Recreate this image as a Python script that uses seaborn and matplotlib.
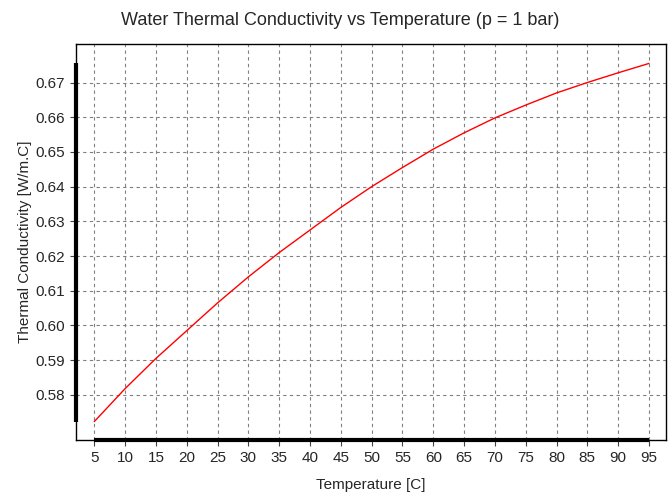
import numpy as np
import pandas as pd
import seaborn as sns
import matplotlib.pyplot as plt

# data
temperature = [5, 10, 15, 20, 25, 30, 35, 40, 45, 50,
               55, 60, 65, 70, 75, 80, 85, 90, 95]
conductivity = [0.5723, 0.5818, 0.5905, 0.5985, 0.6065, 0.6140, 0.6210,
                0.6275, 0.6340, 0.6400, 0.6455, 0.6508, 0.6555, 0.6598,
                0.6635, 0.6670, 0.6700, 0.6728, 0.6755]
x_ticks = list(range(5, 100, 5))
y_ticks = [0.58, 0.59, 0.60, 0.61, 0.62, 0.63, 0.64, 0.65, 0.66, 0.67]

df = pd.DataFrame({'Temperature': temperature, 'k': conductivity})

sns.set_style('ticks')
plt.rcParams['font.family'] = ['Liberation Sans', 'DejaVu Sans']

fig = plt.figure(figsize=(6.7, 4.96), dpi=100)
ax = fig.add_axes([0.1134, 0.1129, 0.8806, 0.7984])

sns.lineplot(data=df, x='Temperature', y='k', color='red', lw=1, ax=ax)

xlim = (2.03, 97.76)
ylim = (0.567, 0.6811)
ax.set_xlim(xlim)
ax.set_ylim(ylim)
ax.set_xticks(x_ticks)
ax.set_yticks(y_ticks)
ax.set_yticklabels(['%.2f' % v for v in y_ticks])

ax.grid(True, color='#808080', ls=(0, (3, 3)), lw=0.8)
for s in ax.spines.values():
    s.set_color('black')
    s.set_linewidth(1)

# thick data-range bars along the axes
ax.vlines(xlim[0], min(conductivity), max(conductivity), color='black', lw=3,
          clip_on=False, zorder=5)
ax.hlines(ylim[0], min(temperature), max(temperature), color='black', lw=3,
          clip_on=False, zorder=5)

ax.tick_params(direction='out', length=4, width=0.8, color='#444444',
               labelsize=11, pad=4)

ax.set_xlabel('Temperature [C]', fontsize=11, labelpad=9)
ax.set_ylabel('Thermal Conductivity [W/m.C]', fontsize=11, labelpad=2)
ax.set_title('Water Thermal Conductivity vs Temperature (p = 1 bar)',
             fontsize=13, pad=14, x=0.447)

fig.savefig('out.png', dpi=100)
